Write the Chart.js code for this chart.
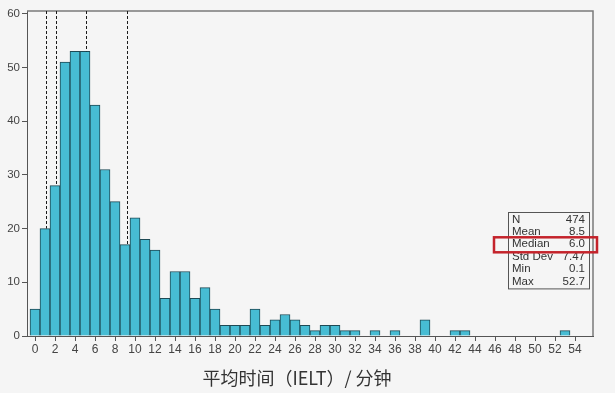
<!DOCTYPE html>
<html>
<head>
<meta charset="utf-8">
<script src="https://cdn.jsdelivr.net/npm/chart.js@4"></script>
<style>
  html, body { margin: 0; padding: 0; background: #f5f5f5; }
  canvas { display: block; }
</style>
</head>
<body>
<canvas id="c" width="615" height="393"></canvas>
<script>
// ---- data ----
const binValues = [0,1,2,3,4,5,6,7,8,9,10,11,12,13,14,15,16,17,18,19,20,21,22,23,24,25,26,27,28,29,30,31,32,33,34,35,36,37,38,39,40,41,42,43,44,45,46,47,48,49,50,51,52,53,54,55];
const counts    = [5,20,28,51,53,53,43,31,25,17,22,18,16,7,12,12,7,9,5,2,2,2,5,2,3,4,3,2,1,2,2,1,1,0,1,0,1,0,0,3,0,0,1,1,0,0,0,0,0,0,0,0,0,1,0,0];
const xTickValues = [0,2,4,6,8,10,12,14,16,18,20,22,24,26,28,30,32,34,36,38,40,42,44,46,48,50,52,54];
const yTickValues = [0,10,20,30,40,50,60];
const refLines = [1.07, 2.07, 5.1, 9.17];
const statLabels = ["N", "Mean", "Median", "Std Dev", "Min", "Max"];
const statValues = ["474", "8.5", "6.0", "7.47", "0.1", "52.7"];
const highlightedStat = "Median";
const xTitle = "平均时间（IELT）/ 分钟";

const FONT = "'Liberation Sans', Arial, sans-serif";

const framePlugin = {
  id: 'frame',
  beforeDatasetsDraw(chart) {
    const {ctx, chartArea: a} = chart;
    ctx.save();
    ctx.strokeStyle = '#7a7a7a';
    ctx.lineWidth = 1.5;
    ctx.beginPath();
    ctx.moveTo(a.left, a.top);
    ctx.lineTo(a.right, a.top);
    ctx.lineTo(a.right, a.bottom);
    ctx.stroke();
    ctx.restore();
  },
  afterDatasetsDraw(chart) {
    const {ctx, chartArea: a, scales} = chart;
    const xs = scales.x, ys = scales.y;
    // dashed reference lines
    ctx.save();
    ctx.strokeStyle = '#1a1a1a';
    ctx.lineWidth = 1;
    ctx.setLineDash([3, 2]);
    refLines.forEach(v => {
      const bin = Math.round(v);
      const px = Math.round(xs.getPixelForValue(v)) + 0.5;
      const yTop = ys.getPixelForValue(counts[binValues.indexOf(bin)]);
      ctx.beginPath();
      ctx.moveTo(px, a.top);
      ctx.lineTo(px, yTop);
      ctx.stroke();
    });
    ctx.restore();

    // statistics box
    const boxW = 81, rowH = 12.4, boxH = statLabels.length * rowH + 2;
    const bx = a.right - 85, by = a.top + 201;
    ctx.save();
    ctx.fillStyle = '#f5f5f5';
    ctx.fillRect(bx, by, boxW, boxH);
    ctx.strokeStyle = '#555';
    ctx.lineWidth = 1;
    ctx.strokeRect(bx + 0.5, by + 0.5, boxW, boxH);
    ctx.font = '11.5px ' + FONT;
    ctx.fillStyle = '#333';
    ctx.textBaseline = 'middle';
    statLabels.forEach((lab, i) => {
      const ty = by + 7.5 + i * rowH;
      ctx.textAlign = 'left';
      ctx.fillText(lab, bx + 4, ty);
      ctx.textAlign = 'right';
      ctx.fillText(statValues[i], bx + boxW - 4, ty);
    });
    const hi = statLabels.indexOf(highlightedStat);
    if (hi >= 0) {
      const ty = by + 7.5 + hi * rowH;
      ctx.strokeStyle = '#c4232b';
      ctx.lineWidth = 2.5;
      ctx.strokeRect(bx - 14, ty - 7, boxW + 22, 15);
    }
    ctx.restore();
  }
};

new Chart(document.getElementById('c'), {
  type: 'bar',
  data: {
    datasets: [{
      data: binValues.map((b, i) => ({x: b, y: counts[i]})),
      backgroundColor: '#47bcd3',
      borderColor: '#1e4a55',
      borderWidth: 1,
      borderSkipped: 'bottom',
      barPercentage: 1,
      categoryPercentage: 1
    }]
  },
  options: {
    responsive: false,
    animation: false,
    devicePixelRatio: 1,
    layout: { padding: { left: 0, top: 11, right: 22, bottom: 0 } },
    plugins: { legend: { display: false }, tooltip: { enabled: false } },
    scales: {
      x: {
        type: 'linear',
        offset: false,
        min: -0.8,
        max: 55.8,
        afterBuildTicks(scale) { scale.ticks = xTickValues.map(v => ({value: v})); },
        afterFit(scale) { scale.height = 57; },
        grid: { offset: false, drawOnChartArea: false, tickLength: 5, tickColor: '#555', tickWidth: 1 },
        border: { color: '#555', width: 1 },
        ticks: { color: '#444', font: { size: 12, family: FONT }, padding: 1, maxRotation: 0, autoSkip: false },
        title: {
          display: true,
          text: xTitle + "\u3000  ",
          color: '#333',
          font: { size: 18, family: "'Noto Sans CJK SC', sans-serif" },
          padding: { top: 0, bottom: 4 }
        }
      },
      y: {
        min: 0,
        max: 60.5,
        afterBuildTicks(scale) { scale.ticks = yTickValues.map(v => ({value: v})); },
        afterFit(scale) { scale.width = 27; },
        grid: { drawOnChartArea: false, tickLength: 5, tickColor: '#555', tickWidth: 1 },
        border: { color: '#555', width: 1 },
        ticks: { color: '#444', font: { size: 11.5, family: FONT }, padding: 2 }
      }
    }
  },
  plugins: [framePlugin]
});
</script>
</body>
</html>
